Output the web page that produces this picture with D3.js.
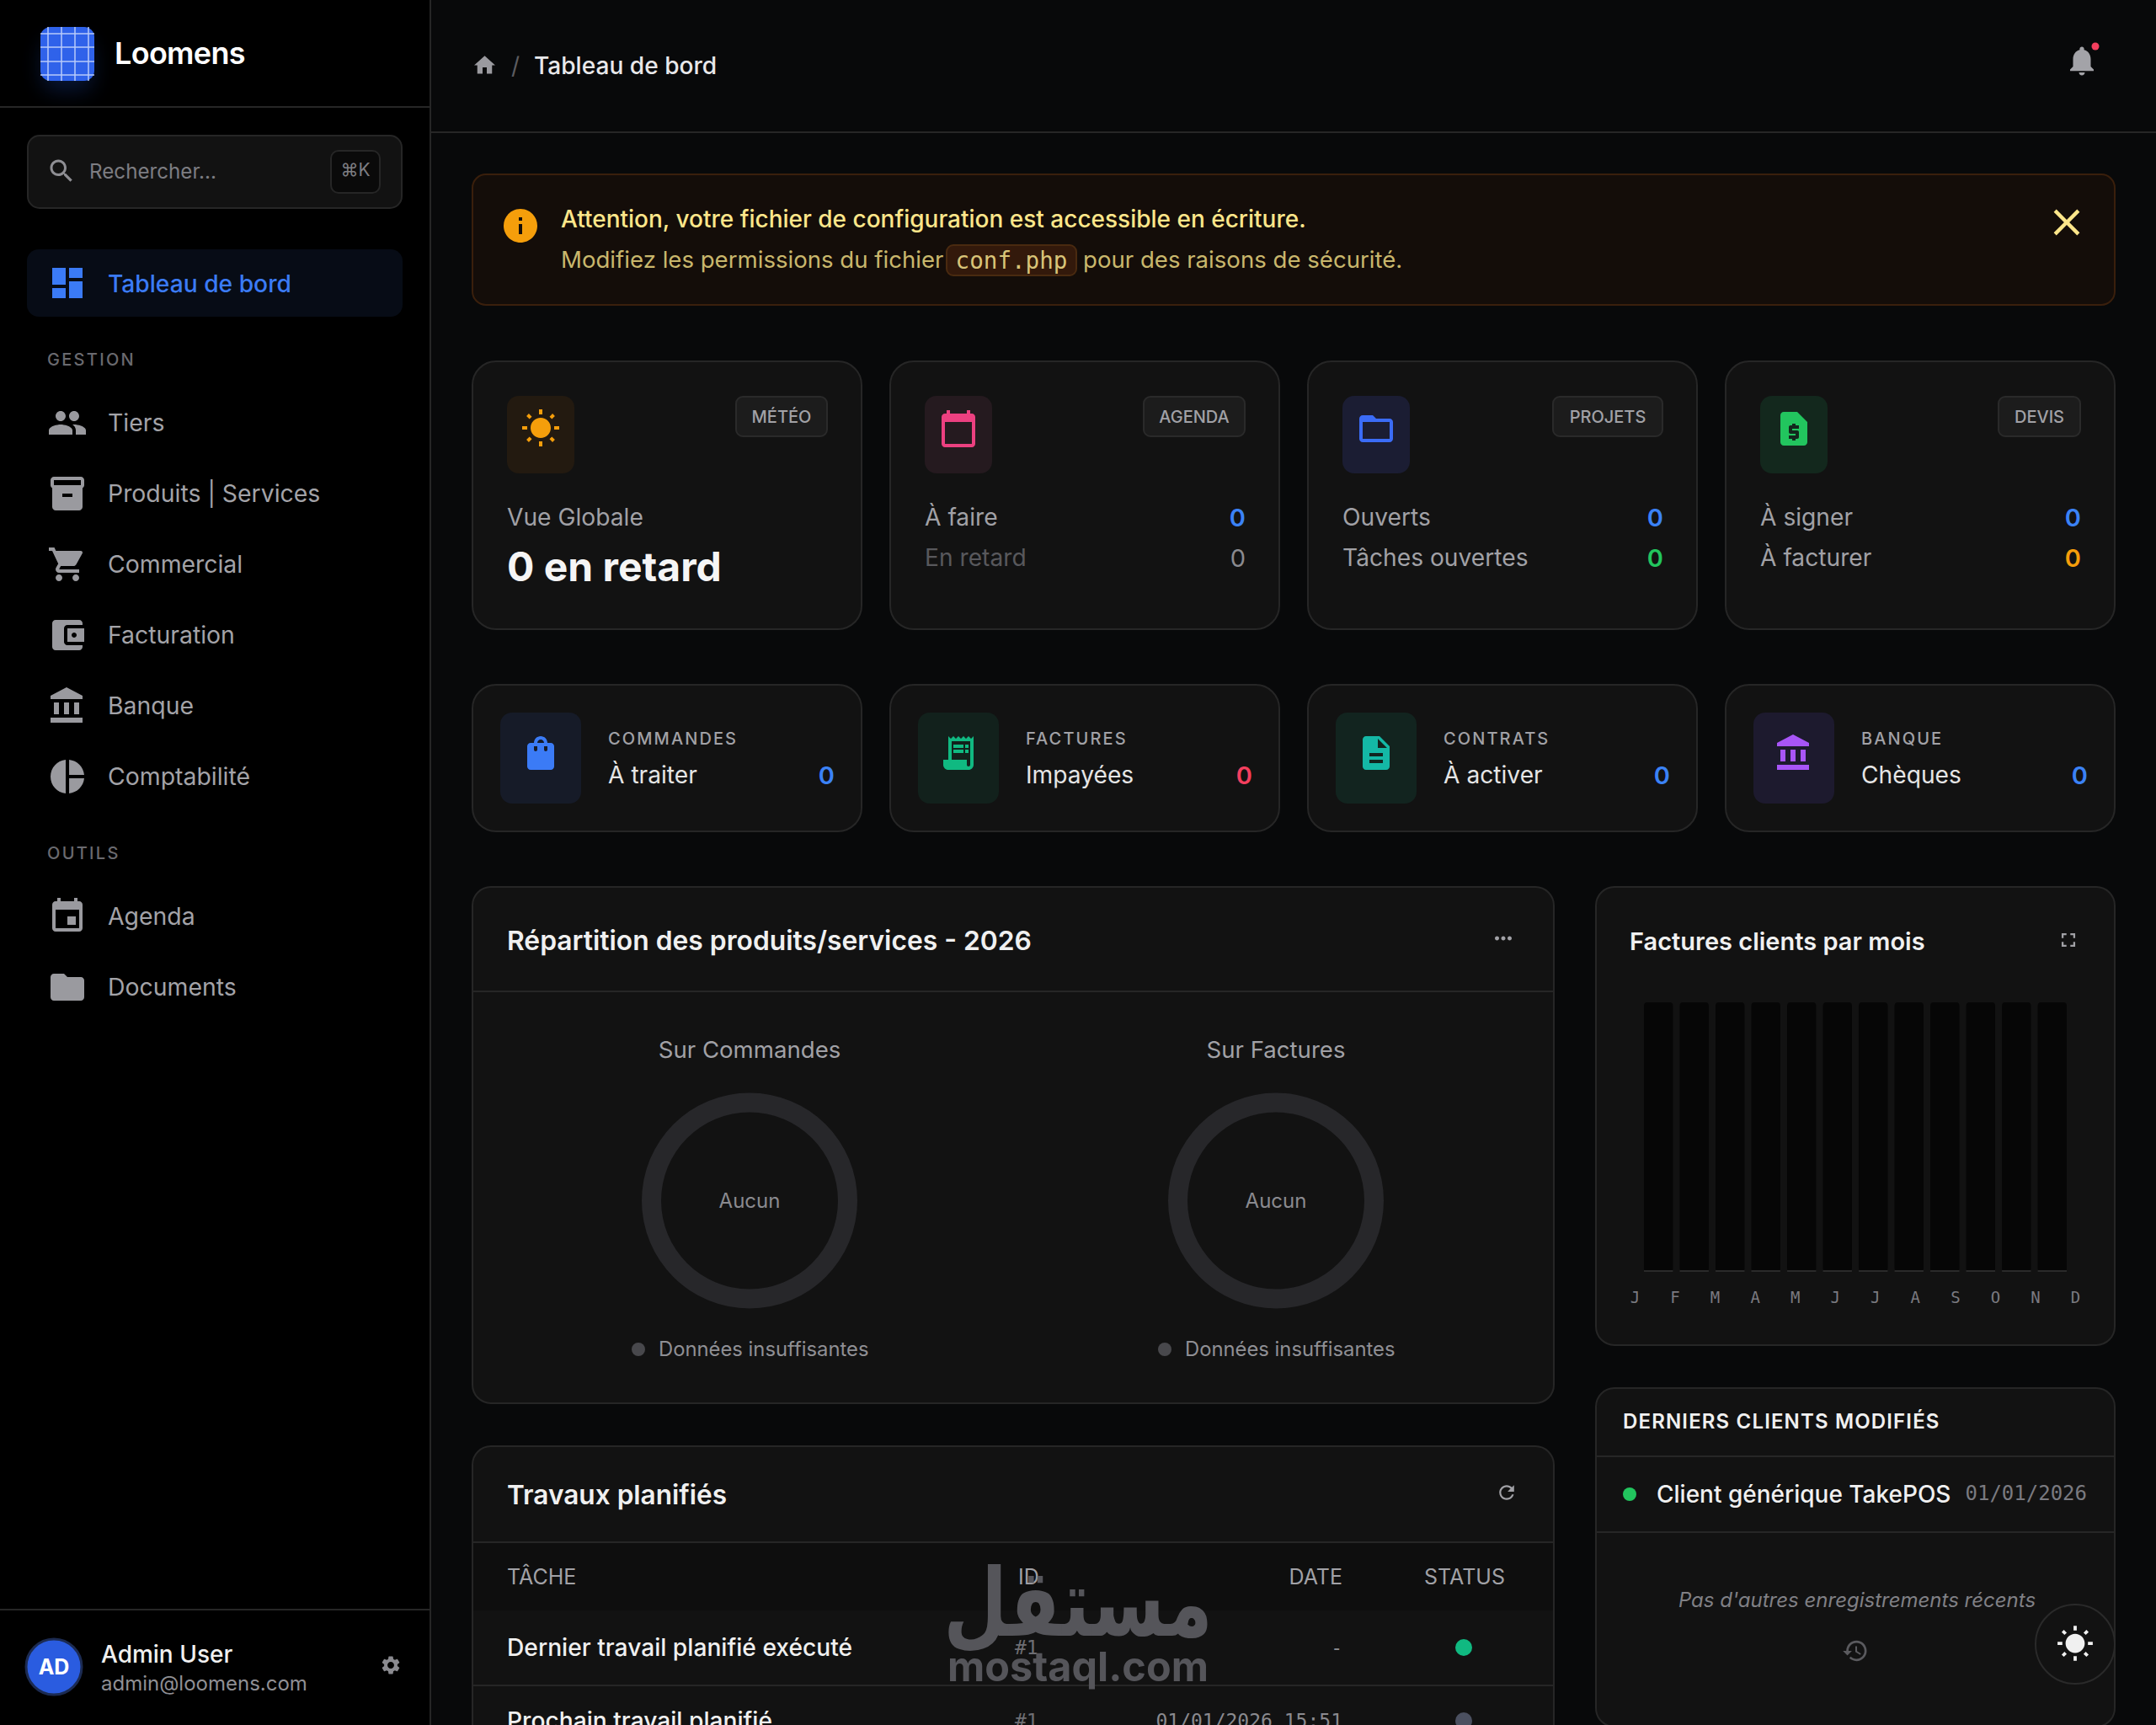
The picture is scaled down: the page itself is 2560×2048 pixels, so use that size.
<!DOCTYPE html>
<html>
<head>
<meta charset="utf-8">
<title>Loomens</title>
<script src="https://cdn.jsdelivr.net/npm/d3@7"></script>
<style>
  html, body { margin: 0; padding: 0; background: #000; }
  svg { display: block; }
  text { font-family: Inter, "Noto Sans", sans-serif; }
  .mono { font-family: "DejaVu Sans Mono", monospace; }
</style>
</head>
<body>
<div id="page"></div>
<script>
// data
var navGestion = ["Tiers", "Produits | Services", "Commercial", "Facturation", "Banque", "Comptabilité"];
var navOutils = ["Agenda", "Documents"];

var topBadges = ["MÉTÉO", "AGENDA", "PROJETS", "DEVIS"];
var topLabelsA = ["Vue Globale", "À faire", "Ouverts", "À signer"];
var topLabelsB = ["0 en retard", "En retard", "Tâches ouvertes", "À facturer"];
var topValuesA = [null, 0, 0, 0];
var topValuesB = [null, 0, 0, 0];

var statGroups = ["COMMANDES", "FACTURES", "CONTRATS", "BANQUE"];
var statLabels = ["À traiter", "Impayées", "À activer", "Chèques"];
var statValues = [0, 0, 0, 0];

var donutTitles = ["Sur Commandes", "Sur Factures"];
var commandesShares = [];
var facturesShares = [];

var months = ["J", "F", "M", "A", "M", "J", "J", "A", "S", "O", "N", "D"];
var invoicesPerMonth = [0, 0, 0, 0, 0, 0, 0, 0, 0, 0, 0, 0];

var tableHead = ["TÂCHE", "ID", "DATE", "STATUS"];
var taskNames = ["Dernier travail planifié exécuté", "Prochain travail planifié"];
var taskIds = ["#1", "#1"];
var taskDates = ["-", "01/01/2026 15:51"];
var taskOk = [true, false];

var icons = {
  search: "M15.5 14h-.79l-.28-.27C15.41 12.59 16 11.11 16 9.5 16 5.91 13.09 3 9.5 3S3 5.91 3 9.5 5.91 16 9.5 16c1.61 0 3.09-.59 4.23-1.57l.27.28v.79l5 4.99L20.49 19l-4.99-5zm-6 0C7.01 14 5 11.99 5 9.5S7.01 5 9.5 5 14 7.01 14 9.5 11.99 14 9.5 14z",
  dashboard: "M3 13h8V3H3v10zm0 8h8v-6H3v6zm10 0h8V11h-8v10zm0-18v6h8V3h-8z",
  people: "M16 11c1.66 0 2.99-1.34 2.99-3S17.66 5 16 5c-1.66 0-3 1.34-3 3s1.34 3 3 3zm-8 0c1.66 0 2.99-1.34 2.99-3S9.66 5 8 5C6.34 5 5 6.34 5 8s1.34 3 3 3zm0 2c-2.33 0-7 1.17-7 3.5V19h14v-2.5c0-2.33-4.67-3.5-7-3.5zm8 0c-.29 0-.62.02-.97.05 1.16.84 1.97 1.97 1.97 3.45V19h6v-2.5c0-2.33-4.67-3.5-7-3.5z",
  inventory: "M20 2H4c-1 0-2 .9-2 2v3.01c0 .72.43 1.34 1 1.69V20c0 1.1 1.1 2 2 2h14c.9 0 2-.9 2-2V8.7c.57-.35 1-.97 1-1.69V4c0-1.1-1-2-2-2zm-5 12H9v-2h6v2zm5-7H4V4l16-.02V7z",
  cart: "M7 18c-1.1 0-1.99.9-1.99 2S5.9 22 7 22s2-.9 2-2-.9-2-2-2zM1 2v2h2l3.6 7.59-1.35 2.45c-.16.28-.25.61-.25.96 0 1.1.9 2 2 2h12v-2H7.42c-.14 0-.25-.11-.25-.25l.03-.12.9-1.63h7.45c.75 0 1.41-.41 1.75-1.03l3.58-6.49c.08-.14.12-.31.12-.48 0-.55-.45-1-1-1H5.21l-.94-2H1zm16 16c-1.1 0-1.99.9-1.99 2s.89 2 1.99 2 2-.9 2-2-.9-2-2-2z",
  wallet: "M21 18v1c0 1.1-.9 2-2 2H5c-1.11 0-2-.9-2-2V5c0-1.1.89-2 2-2h14c1.1 0 2 .9 2 2v1h-9c-1.11 0-2 .9-2 2v8c0 1.1.89 2 2 2h9zm-9-2h10V8H12v8zm4-2.5c-.83 0-1.5-.67-1.5-1.5s.67-1.5 1.5-1.5 1.5.67 1.5 1.5-.67 1.5-1.5 1.5z",
  bank: "M4 10v7h3v-7H4zm6 0v7h3v-7h-3zM2 22h19v-3H2v3zm14-12v7h3v-7h-3zm-4.5-9L2 6v2h19V6l-9.5-5z",
  pie: "M11 2v20c-5.07-.5-9-4.79-9-10s3.93-9.5 9-10zm2.03 0v8.99H22c-.47-4.74-4.24-8.52-8.97-8.99zm0 11.01V22c4.74-.47 8.5-4.25 8.97-8.99h-8.97z",
  event: "M17 12h-5v5h5v-5zM16 1v2H8V1H6v2H5c-1.11 0-1.99.9-1.99 2L3 19c0 1.1.89 2 2 2h14c1.1 0 2-.9 2-2V5c0-1.1-.9-2-2-2h-1V1h-2zm3 18H5V8h14v11z",
  folder: "M10 4H4c-1.1 0-1.99.9-1.99 2L2 18c0 1.1.9 2 2 2h16c1.1 0 2-.9 2-2V8c0-1.1-.9-2-2-2h-8l-2-2z",
  folderOpen: "M20 6h-8l-2-2H4c-1.1 0-1.99.9-1.99 2L2 18c0 1.1.9 2 2 2h16c1.1 0 2-.9 2-2V8c0-1.1-.9-2-2-2zm0 12H4V8h16v10z",
  settings: "M19.14 12.94c.04-.3.06-.61.06-.94 0-.32-.02-.64-.07-.94l2.03-1.58c.18-.14.23-.41.12-.61l-1.92-3.32c-.12-.22-.37-.29-.59-.22l-2.39.96c-.5-.38-1.03-.7-1.62-.94l-.36-2.54c-.04-.24-.24-.41-.48-.41h-3.84c-.24 0-.43.17-.47.41l-.36 2.54c-.59.24-1.13.57-1.62.94l-2.39-.96c-.22-.08-.47 0-.59.22L2.74 8.87c-.12.21-.08.47.12.61l2.03 1.58c-.05.3-.09.63-.09.94s.02.64.07.94l-2.03 1.58c-.18.14-.23.41-.12.61l1.92 3.32c.12.22.37.29.59.22l2.39-.96c.5.38 1.03.7 1.62.94l.36 2.54c.05.24.24.41.48.41h3.84c.24 0 .44-.17.47-.41l.36-2.54c.59-.24 1.13-.56 1.62-.94l2.39.96c.22.08.47 0 .59-.22l1.92-3.32c.12-.22.07-.47-.12-.61l-2.01-1.58zM12 15.6c-1.98 0-3.6-1.62-3.6-3.6s1.62-3.6 3.6-3.6 3.6 1.62 3.6 3.6-1.62 3.6-3.6 3.6z",
  home: "M10 20v-6h4v6h5v-8h3L12 3 2 12h3v8z",
  bell: "M12 22c1.1 0 2-.9 2-2h-4c0 1.1.89 2 2 2zm6-6v-5c0-3.07-1.64-5.64-4.5-6.32V4c0-.83-.67-1.5-1.5-1.5s-1.5.67-1.5 1.5v.68C7.63 5.36 6 7.92 6 11v5l-2 2v1h16v-1l-2-2z",
  info: "M12 2C6.48 2 2 6.48 2 12s4.48 10 10 10 10-4.48 10-10S17.52 2 12 2zm1 15h-2v-6h2v6zm0-8h-2V7h2v2z",
  close: "M19 6.41L17.59 5 12 10.59 6.41 5 5 6.41 10.59 12 5 17.59 6.41 19 12 13.41 17.59 19 19 17.59 13.41 12z",
  sun: "M6.76 4.84l-1.8-1.79-1.41 1.41 1.79 1.79 1.42-1.41zM4 10.5H1v2h3v-2zm9-9.95h-2V3.5h2V.55zm7.45 3.91l-1.41-1.41-1.79 1.79 1.41 1.41 1.79-1.79zm-3.21 13.7l1.79 1.8 1.41-1.41-1.8-1.79-1.4 1.4zM20 10.5v2h3v-2h-3zm-8-5c-3.31 0-6 2.69-6 6s2.69 6 6 6 6-2.69 6-6-2.69-6-6-6zm-1 16.95h2V19.5h-2v2.95zm-7.45-3.91l1.41 1.41 1.79-1.8-1.41-1.41-1.79 1.8z",
  calendar: "M20 3h-1V1h-2v2H7V1H5v2H4c-1.1 0-2 .9-2 2v16c0 1.1.9 2 2 2h16c1.1 0 2-.9 2-2V5c0-1.1-.9-2-2-2zm0 18H4V8h16v13z",
  quote: "M14 2H6c-1.1 0-1.99.9-1.99 2L4 20c0 1.1.89 2 1.99 2H18c1.1 0 2-.9 2-2V8l-6-6zm1 10h-4v1h3c.55 0 1 .45 1 1v3c0 .55-.45 1-1 1h-1v1h-2v-1H9v-2h4v-1h-3c-.55 0-1-.45-1-1v-3c0-.55.45-1 1-1h1V9h2v1h2v2z",
  bag: "M18 6h-2c0-2.21-1.79-4-4-4S8 3.79 8 6H6c-1.1 0-2 .9-2 2v12c0 1.1.9 2 2 2h12c1.1 0 2-.9 2-2V8c0-1.1-.9-2-2-2zm-8 4c0 .55-.45 1-1 1s-1-.45-1-1V8h2v2zm2-6c1.1 0 2 .9 2 2h-4c0-1.1.9-2 2-2zm4 6c0 .55-.45 1-1 1s-1-.45-1-1V8h2v2z",
  receipt: "M19.5 3.5L18 2l-1.5 1.5L15 2l-1.5 1.5L12 2l-1.5 1.5L9 2 7.5 3.5 6 2v14H3v3c0 1.66 1.34 3 3 3h12c1.66 0 3-1.34 3-3V2l-1.5 1.5zM19 19c0 .55-.45 1-1 1s-1-.45-1-1v-3H8V5h11v14zM9 7h6v2H9zm7 0h2v2h-2zM9 10h6v2H9zm7 0h2v2h-2z",
  description: "M14 2H6c-1.1 0-1.99.9-1.99 2L4 20c0 1.1.89 2 1.99 2H18c1.1 0 2-.9 2-2V8l-6-6zm2 16H8v-2h8v2zm0-4H8v-2h8v2zm-3-5V3.5L18.5 9H13z",
  refresh: "M17.65 6.35C16.2 4.9 14.21 4 12 4c-4.42 0-7.99 3.58-7.99 8s3.57 8 7.99 8c3.73 0 6.84-2.55 7.73-6h-2.08c-.82 2.33-3.04 4-5.65 4-3.31 0-6-2.69-6-6s2.69-6 6-6c1.66 0 3.14.69 4.22 1.78L13 11h7V4l-2.35 2.35z",
  more: "M6 10c-1.1 0-2 .9-2 2s.9 2 2 2 2-.9 2-2-.9-2-2-2zm12 0c-1.1 0-2 .9-2 2s.9 2 2 2 2-.9 2-2-.9-2-2-2zm-6 0c-1.1 0-2 .9-2 2s.9 2 2 2 2-.9 2-2-.9-2-2-2z",
  fullscreen: "M7 14H5v5h5v-2H7v-3zm-2-4h2V7h3V5H5v5zm12 7h-3v2h5v-5h-2v3zM14 5v2h3v3h2V5h-5z",
  history: "M13 3c-4.97 0-9 4.03-9 9H1l3.89 3.89.07.14L9 12H6c0-3.87 3.13-7 7-7s7 3.13 7 7-3.13 7-7 7c-1.93 0-3.68-.79-4.94-2.06l-1.42 1.42C8.27 19.99 10.51 21 13 21c4.97 0 9-4.03 9-9s-4.03-9-9-9zm-1 5v5l4.28 2.54.72-1.21-3.5-2.08V8H12z"
};

var width = 2560, height = 2048;
var svg = d3.select("#page").append("svg")
  .attr("width", width)
  .attr("height", height)
  .attr("viewBox", "0 0 " + width + " " + height);

var defs = svg.append("defs");
defs.append("filter").attr("id", "soft").attr("x", "-50%").attr("y", "-50%").attr("width", "200%").attr("height", "200%")
  .append("feGaussianBlur").attr("stdDeviation", 12);

// little helpers so the drawing below stays readable
function box(x, y, w, h, r, fill, stroke) {
  return svg.append("rect")
    .attr("x", x).attr("y", y).attr("width", w).attr("height", h)
    .attr("rx", r).attr("ry", r)
    .attr("fill", fill)
    .attr("stroke", stroke || "none")
    .attr("stroke-width", stroke ? 2 : 0);
}

function line(x1, y1, x2, y2, color) {
  return svg.append("line")
    .attr("x1", x1).attr("y1", y1).attr("x2", x2).attr("y2", y2)
    .attr("stroke", color || "#262626").attr("stroke-width", 2);
}

function label(x, y, str, size, color, weight, anchor, spacing) {
  return svg.append("text")
    .attr("x", x).attr("y", y)
    .attr("dy", "0.35em")
    .attr("font-size", size)
    .attr("font-weight", weight || 400)
    .attr("fill", color)
    .attr("text-anchor", anchor || "start")
    .attr("letter-spacing", spacing || 0)
    .text(str);
}

function icon(name, cx, cy, scale, color) {
  return svg.append("path")
    .attr("d", icons[name])
    .attr("fill", color)
    .attr("transform", "translate(" + (cx - 12 * scale) + "," + (cy - 12 * scale) + ") scale(" + scale + ")");
}

// backgrounds
svg.append("rect").attr("width", width).attr("height", height).attr("fill", "#08090a");
svg.append("rect").attr("width", 510).attr("height", height).attr("fill", "#000");
line(511, 0, 511, height);
line(512, 157, width, 157);

// sidebar header
svg.append("rect").attr("x", 50).attr("y", 48).attr("width", 60).attr("height", 60).attr("rx", 14)
  .attr("fill", "#2563eb").attr("opacity", 0.22).attr("filter", "url(#soft)");
box(48, 32, 64, 64, 12, "#2f62ea");
[57, 73, 89, 105].forEach(function (gx) { line(gx, 32, gx, 96, "#b9cbfa").attr("stroke-width", 1.5); });
[40, 56, 73, 89].forEach(function (gy) { line(48, gy, 112, gy, "#b9cbfa").attr("stroke-width", 1.5); });
label(136, 63.5, "Loomens", 36, "#fff", 600, "start", -0.7);
line(0, 127, 510, 127);

// search box
box(33, 161, 444, 86, 14, "#121212", "#262626");
icon("search", 73, 203, 1.5, "#8e8e93");
label(106, 204, "Rechercher...", 24.2, "#7d7d82");
box(393, 179, 58, 50, 9, "#0a0a0a", "#262626");
label(422, 202, "⌘K", 21, "#7e7e83", 400, "middle");

// active entry
box(32, 296, 446, 80, 14, "#070c16");
icon("dashboard", 80, 336, 2, "#3b7bf6");
label(128, 337, "Tableau de bord", 28.2, "#3b7bf6", 500);

// nav sections
var navIcons = ["people", "inventory", "cart", "wallet", "bank", "pie"];
var navY = d3.scalePoint().domain(navGestion).range([501, 921]);
var navY2 = d3.scalePoint().domain(navOutils).range([1087, 1171]);

label(56, 427, "GESTION", 20, "#6a6a6f", 500, "start", 2.3);
navGestion.forEach(function (d, i) {
  icon(navIcons[i], 80, navY(d) + 1, 2, "#9a9a9f");
  label(128, navY(d) + 1.5, d, 28.4, "#a3a3a8");
});
label(56, 1013, "OUTILS", 20, "#6a6a6f", 500, "start", 2.3);
navOutils.forEach(function (d, i) {
  icon(i ? "folder" : "event", 80, navY2(d) + 1, 2, "#9a9a9f");
  label(128, navY2(d) + 1.5, d, 28.4, "#a3a3a8");
});

// sidebar footer
line(0, 1911, 510, 1911);
svg.append("circle").attr("cx", 64).attr("cy", 1979).attr("r", 33).attr("fill", "#2a5ce0").attr("stroke", "#1c2b52").attr("stroke-width", 3);
label(64, 1979, "AD", 25, "#fff", 700, "middle");
label(120, 1964.5, "Admin User", 28, "#f0f0f0", 500);
label(120, 1999, "admin@loomens.com", 24, "#8f8f94");
icon("settings", 464, 1977, 1.1, "#8a8a8f");

// top bar
icon("home", 575.5, 77.5, 1.25, "#9a9a9f");
label(612, 78, "/", 28, "#5c5c60", 400, "middle");
label(634, 78, "Tableau de bord", 28.1, "#e8e8ea", 500);
icon("bell", 2472, 72, 1.75, "#a3a3a8");
svg.append("circle").attr("cx", 2488).attr("cy", 55).attr("r", 4.5).attr("fill", "#f43f5e");

// alert
box(561, 207, 1950, 155, 16, "#140d09", "#3a1f0c");
icon("info", 618, 268, 2, "#f59e0b");
label(666, 260, "Attention, votre fichier de configuration est accessible en écriture.", 28, "#fde68a", 500);
label(666, 308, "Modifiez les permissions du fichier", 27.6, "#c9b76c");
box(1124, 291, 154, 36, 8, "#33190b", "#4a2a10");
svg.append("text").attr("class", "mono").attr("x", 1201).attr("y", 309).attr("dy", "0.35em")
  .attr("text-anchor", "middle").attr("font-size", 27.6).attr("fill", "#d9c478").text("conf.php");
label(1286, 308, "pour des raisons de sécurité.", 27.6, "#c9b76c");
icon("close", 2454, 264, 2.2, "#fde68a");

// top row of cards
var cardX = d3.scaleBand().domain(topBadges).range([560, 2512]).paddingInner(32 / 496);
var topIcons = ["sun", "calendar", "folderOpen", "quote"];
var topIconColors = ["#f59e0b", "#ec4080", "#3b6cf6", "#22c55e"];
var topIconBoxes = ["#231a10", "#251a1f", "#1b1d33", "#13281d"];
var badgeWidths = [108, 120, 130, 97];
var valueColorsA = ["", "#3b82f6", "#3b82f6", "#3b82f6"];
var valueColorsB = ["", "#8a8a8f", "#22c55e", "#f59e0b"];

topBadges.forEach(function (d, i) {
  var x = cardX(d), w = cardX.bandwidth();
  box(x + 1, 429, w - 2, 318, 28, "#121212", "#262626");
  box(x + 42, 470, 80, 92, 14, topIconBoxes[i]);
  icon(topIcons[i], x + 82, 509, 2, topIconColors[i]);
  var bw = badgeWidths[i];
  box(x + 422 - bw, 471, bw, 47, 8, "#1c1c1c", "#2a2a2a");
  label(x + 422 - bw / 2, 495, d, 20, "#a1a1a6", 500, "middle");
  label(x + 42, 614.5, topLabelsA[i], 28.2, "#a1a1a6");
  if (i === 0) {
    label(x + 42, 673.5, topLabelsB[i], 48, "#f5f5f5", 700);
  } else {
    label(x + 42, 662.5, topLabelsB[i], 28.2, i === 1 ? "#58585c" : "#a1a1a6");
    label(x + 423, 614.5, topValuesA[i], 29, valueColorsA[i], 600, "end");
    label(x + 423, 662.5, topValuesB[i], 29, valueColorsB[i], i === 1 ? 400 : 600, "end");
  }
});

// second row of cards
var statIcons = ["bag", "receipt", "description", "bank"];
var statIconColors = ["#3b7bf6", "#10b981", "#14b8a6", "#a855f7"];
var statIconBoxes = ["#161b28", "#12211c", "#12241f", "#1d1a2e"];
var statValueColors = ["#3b82f6", "#f43f5e", "#3b82f6", "#3b82f6"];

statGroups.forEach(function (d, i) {
  var x = cardX(topBadges[i]), w = cardX.bandwidth();
  box(x + 1, 813, w - 2, 174, 28, "#121212", "#262626");
  box(x + 34, 846, 96, 108, 14, statIconBoxes[i]);
  icon(statIcons[i], x + 82, 894, 2, statIconColors[i]);
  label(x + 162, 877, d, 20, "#a1a1a6", 500, "start", 2.1);
  label(x + 162, 920.5, statLabels[i], 28.2, "#e5e5e5");
  label(x + 431, 920.5, statValues[i], 29, statValueColors[i], 600, "end");
});

// products / services panel with the two empty donuts
box(561, 1053, 1284, 613, 22, "#121212", "#262626");
line(561, 1177, 1845, 1177);
label(602, 1116.5, "Répartition des produits/services - 2026", 31.8, "#f0f0f0", 600);
icon("more", 1785, 1114, 1.25, "#a1a1a6");

var donutX = d3.scalePoint().domain(donutTitles).range([890, 1515]);
var donutArc = d3.arc().innerRadius(105).outerRadius(128);
var donutPie = d3.pie().sort(null);

[commandesShares, facturesShares].forEach(function (values, i) {
  var cx = donutX(donutTitles[i]);
  label(cx, 1246, donutTitles[i], 27.6, "#a1a1a6", 400, "middle");
  // no data means the grey placeholder ring
  var slices = donutPie(d3.sum(values) > 0 ? values : [1]);
  svg.append("g")
    .attr("transform", "translate(" + cx + ",1425.5)")
    .selectAll("path")
    .data(slices)
    .enter()
    .append("path")
    .attr("d", donutArc)
    .attr("fill", "#27272a");
  label(cx, 1426, "Aucun", 24, "#8a8a8f", 400, "middle");
  svg.append("circle").attr("cx", cx - 132).attr("cy", 1602).attr("r", 8).attr("fill", "#48484c");
  label(cx - 108, 1602, "Données insuffisantes", 23.8, "#8f8f94");
});

// planned jobs table, runs off the bottom of the page
box(561, 1717, 1284, 500, 22, "#121212", "#262626");
svg.append("rect").attr("x", 562).attr("y", 1832).attr("width", 1282).attr("height", 80).attr("fill", "#0e0e0e");
line(561, 1831, 1845, 1831);
label(602, 1775, "Travaux planifiés", 31.6, "#f0f0f0", 600);
icon("refresh", 1789, 1772, 1.1, "#a1a1a6");

label(602, 1872, tableHead[0], 25, "#a1a1a6");
label(1209, 1872, tableHead[1], 25, "#a1a1a6");
label(1594, 1872, tableHead[2], 25, "#a1a1a6", 400, "end");
label(1739, 1872, tableHead[3], 25, "#a1a1a6", 400, "middle");

var rowY = d3.scalePoint().domain(taskNames).range([1956, 2043]);
taskNames.forEach(function (d, i) {
  var y = rowY(d);
  label(602, y, d, 28.2, "#f0f0f0", 500);
  svg.append("text").attr("class", "mono").attr("x", 1205).attr("y", y).attr("dy", "0.35em")
    .attr("font-size", 23).attr("fill", "#6e6e73").text(taskIds[i]);
  svg.append("text").attr("class", "mono").attr("x", 1594).attr("y", y).attr("dy", "0.35em")
    .attr("text-anchor", "end").attr("font-size", 23).attr("fill", "#8a8a8f").text(taskDates[i]);
  svg.append("circle").attr("cx", 1738).attr("cy", y).attr("r", 10).attr("fill", taskOk[i] ? "#10b981" : "#4b5060");
});
line(561, 2001, 1845, 2001);

// monthly invoices panel
box(1895, 1053, 616, 544, 22, "#121212", "#262626");
label(1935, 1118, "Factures clients par mois", 29, "#f0f0f0", 600);
icon("fullscreen", 2456, 1116, 1.15, "#a1a1a6");

var barX = d3.scaleBand().domain(d3.range(months.length)).range([1952, 2454]).paddingInner(8 / 42);
var barY = d3.scaleLinear().domain([0, d3.max(invoicesPerMonth) || 1]).range([1510, 1190]);
var monthX = d3.scalePoint().domain(d3.range(months.length)).range([1941, 2464]);

svg.append("g").selectAll("rect")
  .data(invoicesPerMonth)
  .enter()
  .append("rect")
  .attr("x", function (d, i) { return barX(i); })
  .attr("y", barY.range()[1])
  .attr("width", barX.bandwidth())
  .attr("height", barY.range()[0] - barY.range()[1])
  .attr("rx", 4)
  .attr("fill", "#060606");

// a zero still gets its thin baseline, as in the reference
svg.append("g").selectAll("rect")
  .data(invoicesPerMonth)
  .enter()
  .append("rect")
  .attr("x", function (d, i) { return barX(i); })
  .attr("y", function (d) { return barY(d) - 2; })
  .attr("width", barX.bandwidth())
  .attr("height", function (d) { return barY(0) - barY(d) + 2; })
  .attr("fill", "#2a2a2a");

var monthAxis = svg.append("g")
  .attr("transform", "translate(0,1540)")
  .call(d3.axisBottom(monthX).tickSize(0).tickPadding(0).tickFormat(function (i) { return months[i]; }));
monthAxis.select(".domain").remove();
monthAxis.selectAll("text")
  .attr("class", "mono")
  .attr("y", 0)
  .attr("dy", "0.35em")
  .attr("font-size", 19)
  .attr("fill", "#7a7a80");

// latest clients panel
box(1895, 1648, 616, 402, 22, "#121212", "#262626");
label(1927, 1688, "DERNIERS CLIENTS MODIFIÉS", 24, "#f0f0f0", 600, "start", 1.15);
line(1895, 1729, 2511, 1729);
svg.append("circle").attr("cx", 1935).attr("cy", 1774).attr("r", 8).attr("fill", "#22c55e");
label(1967, 1774, "Client générique TakePOS", 28, "#f0f0f0", 500);
svg.append("text").attr("class", "mono").attr("x", 2478).attr("y", 1773).attr("dy", "0.35em")
  .attr("text-anchor", "end").attr("font-size", 24).attr("fill", "#7a7a80").text("01/01/2026");
line(1895, 1819, 2511, 1819);
label(2205, 1900, "Pas d'autres enregistrements récents", 24, "#808085", 400, "middle").attr("font-style", "italic");
icon("history", 2203, 1960, 1.35, "#5a5a5e");

// theme button
svg.append("circle").attr("cx", 2464).attr("cy", 1952).attr("r", 47).attr("fill", "#121212").attr("stroke", "#2a2a2a").attr("stroke-width", 2);
icon("sun", 2464, 1952, 1.9, "#f0f0f0");

// watermark sitting on top of the page
label(0, 0, "مستقل", 112, "#55555a", 700, "middle")
  .attr("transform", "translate(1280,1903) scale(0.78,1)")
  .style("font-family", "'DejaVu Sans', sans-serif");
label(1280, 1979, "mostaql.com", 48.5, "#55555a", 700, "middle");
</script>
</body>
</html>
